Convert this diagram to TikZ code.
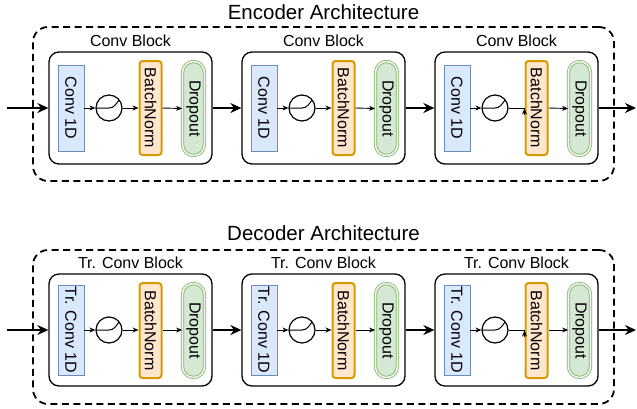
\documentclass[tikz,border=0pt]{standalone}
\usepackage{fontspec}
\setmainfont{Liberation Sans}
\usepackage{graphicx}
\usetikzlibrary{arrows.meta,calc}
\definecolor{convfill}{HTML}{DAE8FC}
\definecolor{convdraw}{HTML}{6C8EBF}
\definecolor{bnfill}{HTML}{FFE6CC}
\definecolor{bndraw}{HTML}{D79B00}
\definecolor{dofill}{HTML}{D5E8D4}
\definecolor{dodraw}{HTML}{82B366}
\tikzset{
  arch/.style={draw, dashed, dash pattern=on 7pt off 4.5pt, line width=1.8pt, rounded corners=15pt, minimum width=581pt, minimum height=154pt, inner sep=0},
  archtitle/.style={font=\fontsize{20.5}{24}\selectfont, inner sep=0},
  blk/.style={draw, line width=1.3pt, rounded corners=10pt, minimum width=163pt, minimum height=112pt, inner sep=0},
  blklabel/.style={font=\fontsize{16}{18}\selectfont, inner sep=0},
  boxtext/.style={font=\fontsize{16}{18}\selectfont, inner sep=0},
  convbox/.style={boxtext, draw=convdraw, fill=convfill, line width=0.8pt, minimum width=26pt},
  bnbox/.style={boxtext, draw=bndraw, fill=bnfill, line width=2pt, rounded corners=3pt, minimum width=22pt},
  dobox/.style={boxtext, draw=dodraw, fill=dofill, line width=0.8pt, double=dofill!40!white, double distance=1.6pt, rounded corners=11pt, minimum width=22pt},
  act/.style={circle, draw, line width=1.2pt, minimum size=26pt, inner sep=0},
  actcurve/.style={line width=1pt},
  thinarrow/.style={line width=0.9pt, -{Stealth[length=6pt,width=5pt]}},
  thickarrow/.style={line width=1.8pt, -{Stealth[length=11pt,width=10pt]}},
}
\begin{document}
\begin{tikzpicture}[x=1pt,y=-1pt]
\useasboundingbox (0,0) rectangle (637,408);
% ---------- Encoder ----------
\node[arch] (encbox) at (323.5,104) {};
\node[archtitle] (enctitle) at (323.5,12) {Encoder Architecture};
\foreach \i/\x in {1/49,2/242,3/435}{
  \node[blk] (eblk\i) at (\x+81.5,108) {};
  \node[blklabel] (elab\i) at (\x+81.5,41) {Conv Block};
  \node[convbox, minimum height=86pt] (econv\i) at (\x+22,108) {\rotatebox{-90}{Conv 1D}};
  \node[act] (eact\i) at (\x+60,108) {};
  \draw[actcurve, shift={(eact\i.center)}] (-13,0) -- (0,0) .. controls (5,0) and (7,-4) .. (10,-8);
  \node[bnbox, minimum height=94pt] (ebn\i) at (\x+101.5,108) {\rotatebox{-90}{BatchNorm}};
  \node[dobox, minimum height=94pt] (edo\i) at (\x+144.5,108.5) {\rotatebox{-90}{Dropout}};
  \draw[thinarrow] (econv\i.east) -- (eact\i.west);
  \draw[thinarrow] (ebn\i.east) -- (edo\i.west);
}
\draw[thinarrow] (eact1.east) -- (ebn1.west);
\draw[thinarrow] (eact2.east) -- (ebn2.west);
\draw[line width=0.9pt] (eact3.east) -- (ebn3.west);
\draw[thinarrow] ([yshift=-7pt]ebn3.west) -- ([yshift=-0.5pt]ebn3.west);
\coordinate (ein) at (7,108);
\coordinate (eout) at (636,108);
\draw[thickarrow] (ein) -- (eblk1.west);
\draw[thickarrow] (eblk1.east) -- (eblk2.west);
\draw[thickarrow] (eblk2.east) -- (eblk3.west);
\draw[thickarrow] (eblk3.east) -- (eout);
% ---------- Decoder ----------
\node[arch] (decbox) at (323.5,327) {};
\node[archtitle] (dectitle) at (323.5,233) {Decoder Architecture};
\foreach \i/\x in {1/49,2/242,3/435}{
  \node[blk] (dblk\i) at (\x+81.5,330) {};
  \node[blklabel] (dlab\i) at (\x+81.5,263) {Tr. Conv Block};
  \node[convbox, minimum height=90pt] (dconv\i) at (\x+22,330) {\rotatebox{-90}{Tr. Conv 1D}};
  \node[act] (dact\i) at (\x+60,330) {};
  \draw[actcurve, shift={(dact\i.center)}] (-13,0) -- (0,0) .. controls (5,0) and (7,-4) .. (10,-8);
  \node[bnbox, minimum height=95pt] (dbn\i) at (\x+101.5,330.5) {\rotatebox{-90}{BatchNorm}};
  \node[dobox, minimum height=94pt] (ddo\i) at (\x+144.5,330.5) {\rotatebox{-90}{Dropout}};
  \draw[thinarrow] (dconv\i.east) -- (dact\i.west);
  \draw[thinarrow] (dbn\i.east |- dact\i.center) -- (ddo\i.west |- dact\i.center);
}
\draw[thinarrow] (dact1.east) -- (dbn1.west |- dact1.center);
\draw[thinarrow] (dact2.east) -- (dbn2.west |- dact2.center);
\draw[line width=0.9pt] (dact3.east) -- (dbn3.west |- dact3.center);
\draw[thinarrow] ([yshift=-7pt]dbn3.west |- dact3.center) -- ([yshift=-0.5pt]dbn3.west |- dact3.center);
\coordinate (din) at (7,330);
\coordinate (dout) at (636,330);
\draw[thickarrow] (din) -- (dblk1.west);
\draw[thickarrow] (dblk1.east) -- (dblk2.west);
\draw[thickarrow] (dblk2.east) -- (dblk3.west);
\draw[thickarrow] (dblk3.east) -- (dout);
\end{tikzpicture}
\end{document}
